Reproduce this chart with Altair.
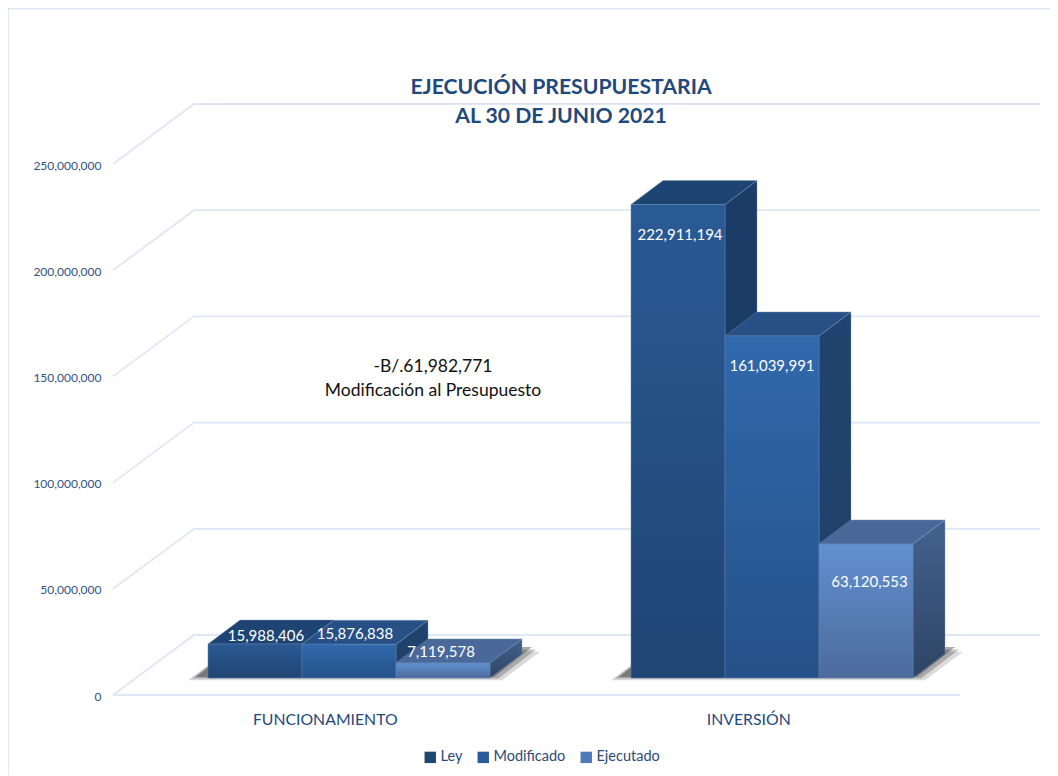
import altair as alt
import pandas as pd

# ---- chart values ----
categories = ["FUNCIONAMIENTO", "INVERSIÓN"]
series = ["Ley", "Modificado", "Ejecutado"]
ley = [15988406, 222911194]
modificado = [15876838, 161039991]
ejecutado = [7119578, 63120553]
tick_values = [0, 50000000, 100000000, 150000000, 200000000, 250000000]
note_lines = ["-B/.61,982,771", "Modificación al Presupuesto"]
title_lines = ["EJECUCIÓN PRESUPUESTARIA", "AL 30 DE JUNIO 2021"]

# ---- scale geometry ----
W, H = 1042, 767
CAT_PX = 423.5            # pixels per category
VAL_PX = 2.124e-6         # pixels per budget unit
X0_PX, Y0_PX = 105, 687   # where (0, 0) lands inside the plot
x_dom = [-X0_PX / CAT_PX, (W - X0_PX) / CAT_PX]
y_dom = [-(H - Y0_PX) / VAL_PX, Y0_PX / VAL_PX]


def ux(px):
    return px / CAT_PX


def uy(px):
    return px / VAL_PX


x_scale = alt.Scale(domain=x_dom, range=[0, W], nice=False, zero=False)
y_scale = alt.Scale(domain=y_dom, range=[H, 0], nice=False, zero=False)

FLOOR = uy(17)            # bar front stands this far behind the floor's front edge
DEPTH_X, DEPTH_Y = ux(32), uy(24)
WALL_X, WALL_Y = ux(81), uy(60)
BAR_W = ux(94)
GROUP_L = [ux(95), ux(518)]
label_shift = {  # label centre relative to the bar's front top, px (up positive)
    "Ley": [8, -30], "Modificado": [10, -30], "Ejecutado": [11, -38],
}
label_dx = {  # label centre relative to the bar's centre, px
    "Ley": [11, 2], "Modificado": [6, 0], "Ejecutado": [-2, 3.5],
}

palette = {
    "Ley": dict(front=("#2a5a94", "#1f4573"), top="#1e4474", side=("#1b3c66", "#1a3a62"), key="#1f4573"),
    "Modificado": dict(front=("#3069ad", "#255188"), top="#265086", side=("#20446f", "#1f4068"), key="#2a5c9a"),
    "Ejecutado": dict(front=("#6290d0", "#4c6b9c"), top="#48699a", side=("#42628f", "#2f4464"), key="#5079b8"),
}
BORDER = "#d4e2f3"


def vgrad(a, b):
    return alt.Gradient(gradient="linear", x1=0, y1=0, x2=0, y2=1,
                        stops=[alt.GradientStop(color=a, offset=0),
                               alt.GradientStop(color=b, offset=1)])


X = alt.X("x:Q", scale=x_scale, axis=alt.Axis(
    values=[0.5, 1.5], orient="bottom", offset=-(H - 704), title=None, domain=False, ticks=False,
    grid=False, labelFontSize=15.8, labelColor="#1f497d", labelFont="Lato", labelPadding=0,
    labelExpr=f"datum.value < 1 ? '{categories[0]}' : '{categories[1]}'"))
Y = alt.Y("y:Q", scale=y_scale, axis=alt.Axis(
    values=tick_values, orient="left", offset=-97, title=None, domain=False, ticks=False, grid=False,
    format=",.0f", labelFontSize=12, labelColor="#2f5285", labelFont="Lato", labelPadding=4, labelOffset=1))
Y2 = alt.Y2("y2:Q")

# ---- chart frame: the reference only shows its top and left edges ----
frame_top = alt.Chart(pd.DataFrame({"a": [0]})).mark_rule(color=BORDER, strokeWidth=1.5).encode(
    x=alt.value(0), x2=alt.value(W), y=alt.value(0.5))
frame_left = alt.Chart(pd.DataFrame({"a": [0]})).mark_rule(color=BORDER, strokeWidth=1.5).encode(
    x=alt.value(0), y=alt.value(0), y2=alt.value(H))

# ---- wall and floor grid ----
grid_rows = []
for v in tick_values:
    pts = [(0, v), (WALL_X, v + WALL_Y), (2 + WALL_X - ux(1), v + WALL_Y)]
    for i, (px, py) in enumerate(pts):
        grid_rows.append(dict(x=px, y=py, level=v, i=i))
for i, px in enumerate([0, 2]):
    grid_rows.append(dict(x=px, y=0, level=-1, i=i))
grid = alt.Chart(pd.DataFrame(grid_rows)).mark_line(color="#dde7f5", strokeWidth=1.8).encode(
    x=X, y=Y, detail="level:N", order="i:Q")

# ---- floor shadows ----
shadow_rows = []
for g, left in enumerate(GROUP_L):
    r = left + 3 * BAR_W
    for k, grow in enumerate([8, 4, 0]):
        lo = FLOOR + uy(1 - grow * 0.4)
        hi = lo + uy(30 - grow * 0.2)
        sl, sr = left - ux(12 + grow), r + ux(4 + grow)
        d = ux(38)
        for px, a, b in [(sl, lo, lo), (sl + d, lo, hi), (sr, lo, hi), (sr + d, hi, hi)]:
            shadow_rows.append(dict(x=px, y=a, y2=b, g=g, k=k))
shadow_df = pd.DataFrame(shadow_rows)
shadow_layers = [
    alt.Chart(shadow_df[shadow_df.k == k]).mark_area(
        color="#303030", opacity=op, orient="vertical").encode(
        x=X, y=Y, y2=Y2, detail="g:N")
    for k, op in enumerate([0.18, 0.28, 0.4])
]

# ---- legend carrier: one tiny point per series, hidden behind the bars ----
key_df = pd.DataFrame({"x": [GROUP_L[1] + BAR_W * (i + .5) for i in range(3)],
                       "y": [uy(100)] * 3, "Serie": series})
key = alt.Chart(key_df).mark_square(size=1, opacity=1, filled=True).encode(
    x=X, y=Y,
    color=alt.Color("Serie:N", sort=series,
                    scale=alt.Scale(domain=series, range=[palette[s]["key"] for s in series]),
                    legend=alt.Legend(orient="none", legendX=415, legendY=742, direction="horizontal",
                                      title=None, symbolType="square", symbolSize=130, symbolStrokeWidth=0,
                                      symbolOpacity=1,
                                      labelFont="Lato", labelFontSize=14.5, labelColor="#2a4a78",
                                      labelOffset=3, columnPadding=13, columns=3)))

# ---- 3-D bars ----
bar_layers = []
label_rows = []
values = {"Ley": ley, "Modificado": modificado, "Ejecutado": ejecutado}
for j, s in enumerate(series):
    p = palette[s]
    front, top, side = [], [], []
    for g, left in enumerate(GROUP_L):
        v = values[s][g]
        L = left + j * BAR_W
        R = L + BAR_W
        b, t = FLOOR, FLOOR + v
        front.append(dict(x=L, x2=R, y=b, y2=t))
        for px, a, c in [(R, b, t), (R + DEPTH_X, b + DEPTH_Y, t + DEPTH_Y)]:
            side.append(dict(x=px, y=a, y2=c, g=g))
        for px, a, c in [(L, t, t), (L + DEPTH_X, t, t + DEPTH_Y),
                         (R, t, t + DEPTH_Y), (R + DEPTH_X, t + DEPTH_Y, t + DEPTH_Y)]:
            top.append(dict(x=px, y=a, y2=c, g=g))
        label_rows.append(dict(x=(L + R) / 2 + ux(label_dx[s][g]),
                               y=t + uy(label_shift[s][g]), v=v))
    bar_layers.append(alt.Chart(pd.DataFrame(side)).mark_area(
        color=vgrad(*p["side"]), orient="vertical", stroke="#7f97b8", strokeWidth=0.4).encode(
        x=X, y=Y, y2=Y2, detail="g:N"))
    bar_layers.append(alt.Chart(pd.DataFrame(top)).mark_area(
        color=p["top"], orient="vertical", stroke="#7f97b8", strokeWidth=0.4).encode(
        x=X, y=Y, y2=Y2, detail="g:N"))
    bar_layers.append(alt.Chart(pd.DataFrame(front)).mark_rect(
        color=vgrad(*p["front"]), stroke="#5f82b0", strokeWidth=0.5).encode(
        x=X, x2="x2:Q", y=Y, y2=Y2))

labels = alt.Chart(pd.DataFrame(label_rows)).mark_text(
    color="#ffffff", fontSize=15, font="Lato", baseline="middle", align="center").encode(
    x=X, y=Y, text=alt.Text("v:Q", format=",.0f"))

note_df = pd.DataFrame({"x": [ux(320)] * 2, "y": [uy(328), uy(304)], "t": note_lines})
note = alt.Chart(note_df).mark_text(
    color="#111111", fontSize=17.5, font="Lato", baseline="middle", align="center").encode(
    x=X, y=Y, text="t:N")

chart = alt.layer(
    frame_top, frame_left, grid, *shadow_layers, key, *bar_layers, labels, note
).properties(
    width=W, height=H,
    autosize=alt.AutoSizeParams(type="none"),
    padding={"left": 0, "top": 0, "right": 0, "bottom": 0},
    title=alt.TitleParams(text=title_lines, anchor="middle", orient="top", offset=-120, dx=32,
                          font="Lato", fontSize=21.2, fontWeight="bold", color="#1f497d", lineHeight=29),
).configure_view(stroke=None)

chart.save("out.html", embed_options={"renderer": "svg", "actions": False})
